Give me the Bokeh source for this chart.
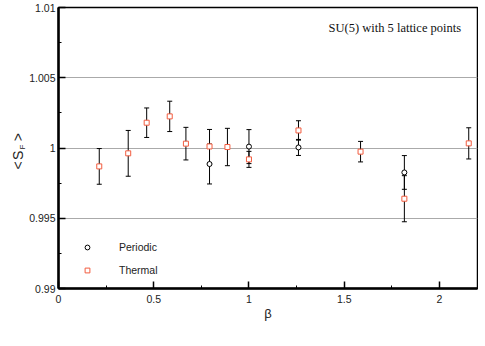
from math import pi
from bokeh.plotting import figure
from bokeh.layouts import row
from bokeh.core.properties import value
from bokeh.models import (ColumnDataSource, Whisker, TeeHead, FixedTicker, Label,
                          Legend, LegendItem, Range1d, PrintfTickFormatter)
from bokeh.embed import file_html
from bokeh.resources import INLINE

# ---- data ----
beta_thermal = [0.214, 0.366, 0.463, 0.584, 0.669, 0.793, 0.887, 1.0, 1.26, 1.586, 1.816, 2.154]
s_thermal = [0.99869, 0.99962, 1.0018, 1.00225, 1.00031, 1.00011, 1.00007, 0.99919, 1.00125, 0.99974, 0.99639, 1.00033]
err_thermal = [0.00127, 0.00163, 0.00105, 0.00108, 0.00116, 0.00121, 0.00133, 0.00057, 0.00069, 0.00073, 0.00164, 0.00111]

beta_periodic = [0.793, 1.0, 1.26, 1.816]
s_periodic = [0.99886, 1.0001, 1.00004, 0.99826]
err_periodic = [0.00142, 0.00121, 0.00057, 0.0012]

x_ticks = [0, 0.5, 1, 1.5, 2]
x_tick_labels = ["0", "0.5", "1", "1.5", "2"]
x_minor = [0.25, 0.75, 1.25, 1.75]
y_ticks = [0.99, 0.995, 1.0, 1.005, 1.01]
y_tick_labels = ["0.99", "0.995", "1", "1.005", "1.01"]
y_minor = [0.9925, 0.9975, 1.0025, 1.0075]

series_names = ["Periodic", "Thermal"]
title_text = "SU(5) with 5 lattice points"
y_label_parts = ["<", "S", "F", ">"]

SANS = "Liberation Sans"
RED = "#f25c3f"
H = 340
LW = 26
SHIFT = 26  # empirical vertical correction for the rotated label pieces

# ---- narrow strip carrying the y-axis label "< S_F >" ----
lab = figure(width=LW, height=H, output_backend="svg", toolbar_location=None,
             x_range=Range1d(0, LW), y_range=Range1d(0, H),
             min_border_left=0, min_border_right=0, min_border_top=0, min_border_bottom=0)
lab.axis.visible = False
lab.grid.visible = False
lab.outline_line_color = None
lab.background_fill_color = "white"
lab.border_fill_color = "white"
lab.text(x=[17.5, 17.5, 17.5], y=[H - 165 - SHIFT, H - 153 - SHIFT, H - 131 - SHIFT],
         text=[y_label_parts[0], y_label_parts[1], y_label_parts[3]],
         angle=pi / 2, text_align="center", text_baseline="middle",
         text_font=value(SANS), text_font_size=value("14px"), text_color="#222222")
lab.text(x=[21.5], y=[H - 143 - SHIFT], text=[y_label_parts[2]],
         angle=pi / 2, text_align="center", text_baseline="middle",
         text_font=value(SANS), text_font_size=value("8px"), text_color="#222222")

# ---- main plot ----
p = figure(width=452, height=H, output_backend="svg", toolbar_location=None,
           x_range=Range1d(0, 2.2), y_range=Range1d(0.99, 1.01),
           min_border_left=31, min_border_right=1, min_border_top=7, min_border_bottom=H - 288)
p.background_fill_color = "white"
p.border_fill_color = "white"
p.outline_line_color = "black"
p.outline_line_width = 1.5

p.xgrid.visible = False
p.ygrid.grid_line_color = "#aaaaaa"
p.ygrid.grid_line_width = 1

for ax in (p.xaxis[0], p.yaxis[0]):
    ax.axis_line_color = "black"
    ax.axis_line_width = 2.5
    ax.major_tick_in = 7
    ax.major_tick_out = 0
    ax.minor_tick_in = 3
    ax.minor_tick_out = 0
    ax.major_tick_line_color = "black"
    ax.major_tick_line_width = 1.5
    ax.minor_tick_line_color = "black"
    ax.minor_tick_line_width = 1
    ax.major_label_text_font = SANS
    ax.major_label_text_font_size = "10.5px"
    ax.major_label_text_color = "#222222"
    ax.formatter = PrintfTickFormatter(format="%g")

p.xaxis.ticker = FixedTicker(ticks=x_ticks, minor_ticks=x_minor)
p.yaxis.ticker = FixedTicker(ticks=y_ticks, minor_ticks=y_minor)
p.xaxis.major_label_overrides = dict(zip(x_ticks, x_tick_labels))
p.yaxis.major_label_overrides = dict(zip(y_ticks, y_tick_labels))
p.xaxis.major_label_standoff = 6
p.yaxis.major_label_standoff = 3

p.xaxis.axis_label = "β"
p.xaxis.axis_label_text_font = SANS
p.xaxis.axis_label_text_font_style = "normal"
p.xaxis.axis_label_text_font_size = "13px"
p.xaxis.axis_label_text_color = "#222222"
p.xaxis.axis_label_standoff = 0

# error bars
src_t = ColumnDataSource(dict(x=beta_thermal, y=s_thermal,
                              lo=[v - e for v, e in zip(s_thermal, err_thermal)],
                              hi=[v + e for v, e in zip(s_thermal, err_thermal)]))
src_p = ColumnDataSource(dict(x=beta_periodic, y=s_periodic,
                              lo=[v - e for v, e in zip(s_periodic, err_periodic)],
                              hi=[v + e for v, e in zip(s_periodic, err_periodic)]))
for src in (src_p, src_t):
    w = Whisker(base="x", lower="lo", upper="hi", source=src, line_color="black", line_width=1,
                upper_head=TeeHead(size=5, line_color="black", line_width=1),
                lower_head=TeeHead(size=5, line_color="black", line_width=1))
    p.add_layout(w)

r_p = p.scatter("x", "y", source=src_p, marker="circle", size=5, line_color="black",
                fill_color="white", line_width=1)
r_t = p.scatter("x", "y", source=src_t, marker="square", size=5, line_color=RED,
                fill_color="white", line_width=1)

legend = Legend(items=[LegendItem(label=series_names[0], renderers=[r_p]),
                       LegendItem(label=series_names[1], renderers=[r_t])],
                location=(18, 3.5), padding=5, spacing=3,
                glyph_width=12, glyph_height=12, label_height=20, label_standoff=26,
                border_line_alpha=0, background_fill_alpha=0,
                label_text_font=SANS, label_text_font_size="10.5px", label_text_color="#222222")
p.add_layout(legend)

p.add_layout(Label(x=270, y=261, x_units="screen", y_units="screen", text=title_text,
                   text_font="Liberation Serif", text_font_size="12.5px", text_color="#111111",
                   text_baseline="middle", text_align="left"))

layout = row(lab, p)
open("out.html", "w").write(file_html(layout, INLINE))
